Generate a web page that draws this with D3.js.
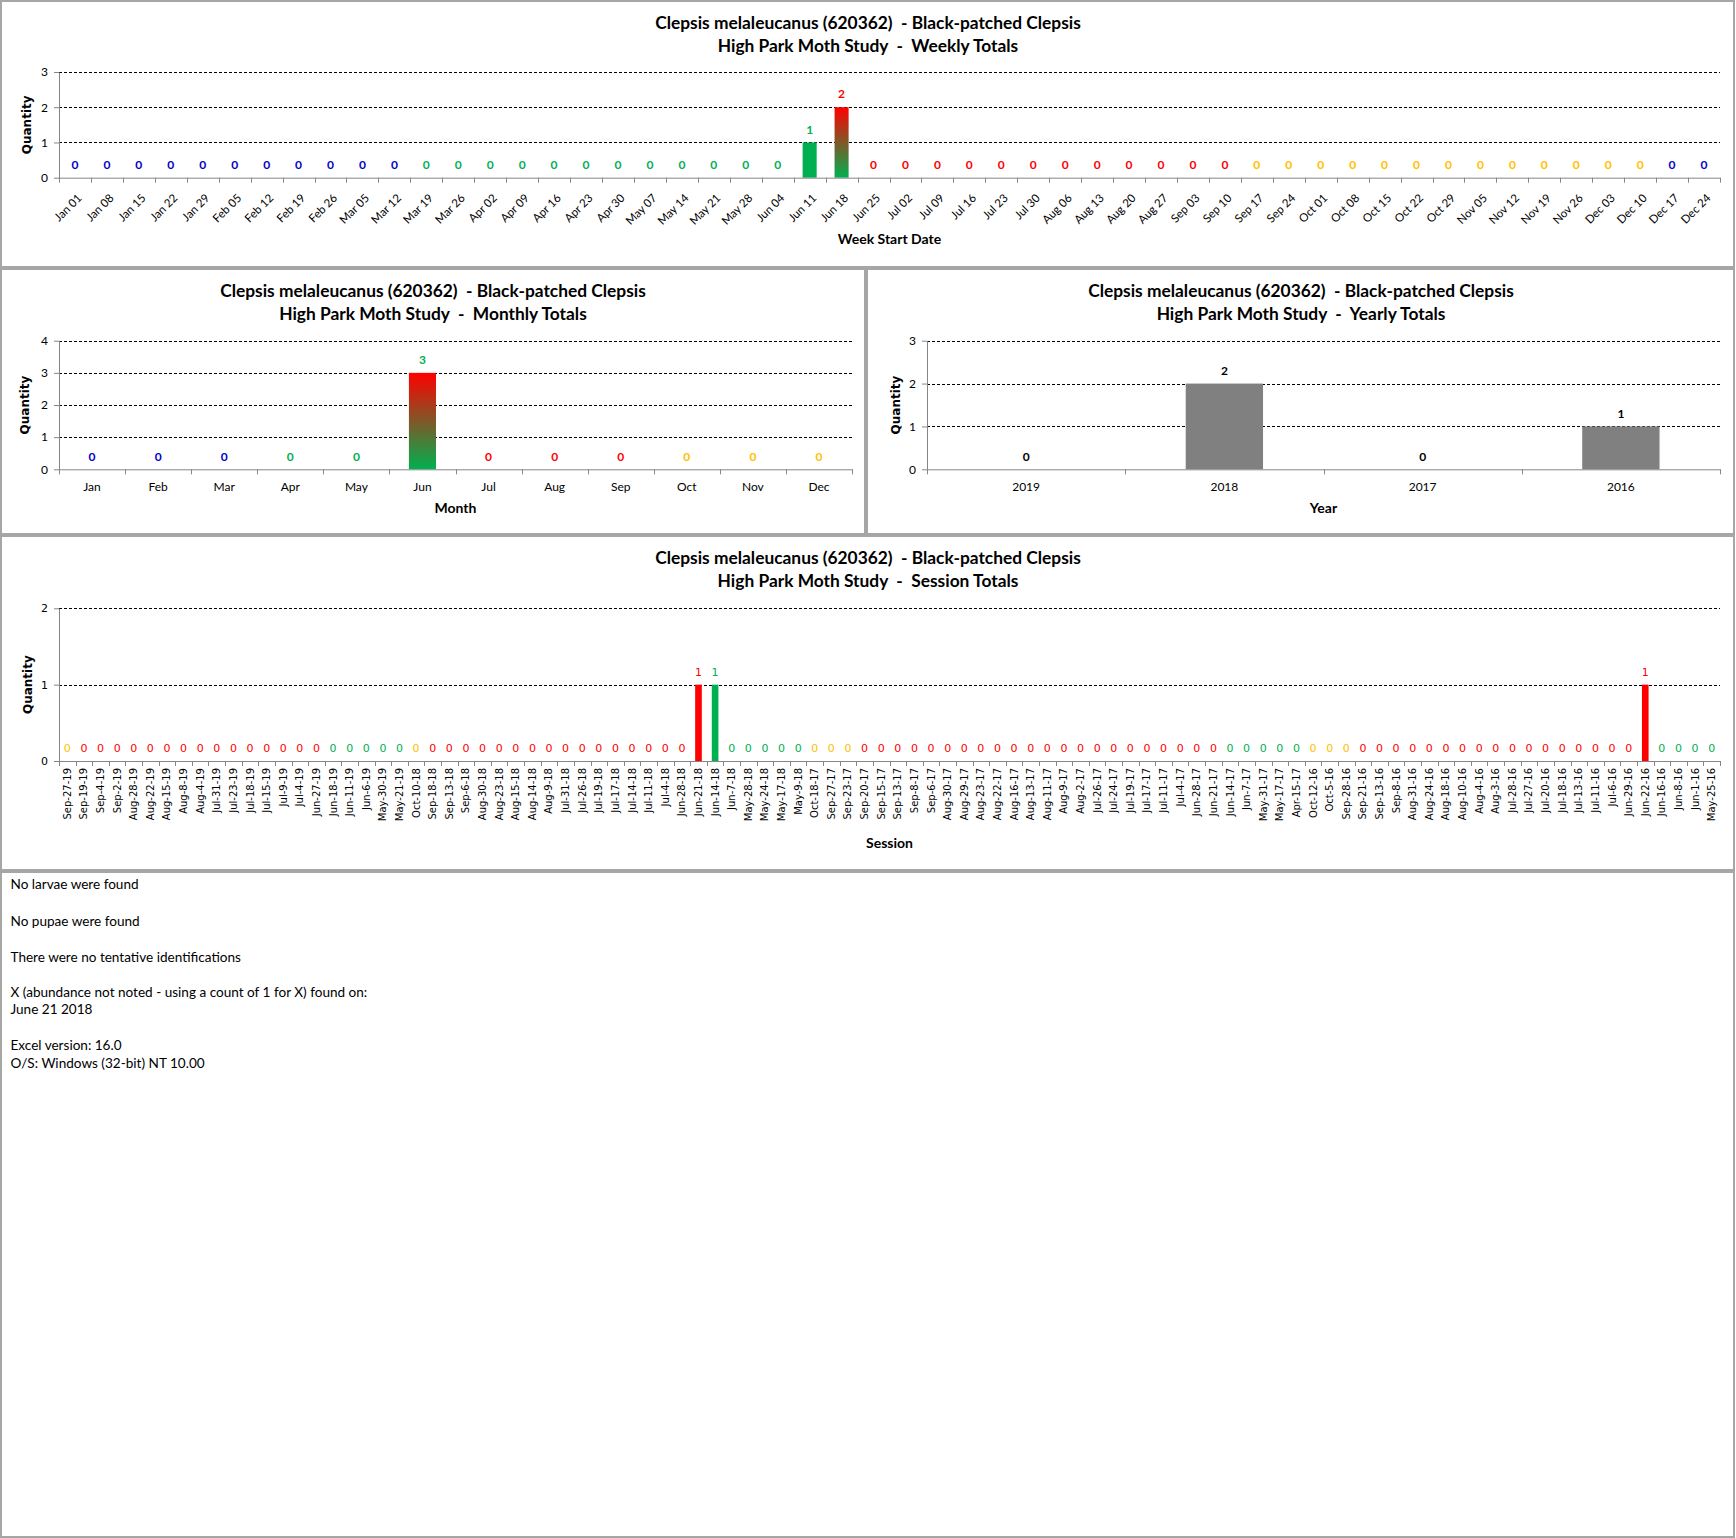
<!DOCTYPE html>
<html><head><meta charset="utf-8">
<script src="https://cdn.jsdelivr.net/npm/d3@7"></script>
<style>body{margin:0;background:#fff} svg{display:block}</style>
</head><body>
<svg id="c" width="1736" height="1538"></svg>
<script>
// ---------------- DATA ----------------
const speciesTitle = "Clepsis melaleucanus (620362)  - Black-patched Clepsis";
const studyTitle = "High Park Moth Study";

const weekLabels = ["Jan 01","Jan 08","Jan 15","Jan 22","Jan 29","Feb 05","Feb 12","Feb 19","Feb 26","Mar 05","Mar 12","Mar 19","Mar 26","Apr 02","Apr 09","Apr 16","Apr 23","Apr 30","May 07","May 14","May 21","May 28","Jun 04","Jun 11","Jun 18","Jun 25","Jul 02","Jul 09","Jul 16","Jul 23","Jul 30","Aug 06","Aug 13","Aug 20","Aug 27","Sep 03","Sep 10","Sep 17","Sep 24","Oct 01","Oct 08","Oct 15","Oct 22","Oct 29","Nov 05","Nov 12","Nov 19","Nov 26","Dec 03","Dec 10","Dec 17","Dec 24"];
const weekValues = [0,0,0,0,0,0,0,0,0,0, 0,0,0,0,0,0,0,0,0,0, 0,0,0,1,2,0,0,0,0,0, 0,0,0,0,0,0,0,0,0,0, 0,0,0,0,0,0,0,0,0,0, 0,0];

const monthLabels = ["Jan","Feb","Mar","Apr","May","Jun","Jul","Aug","Sep","Oct","Nov","Dec"];
const monthValues = [0,0,0,0,0,3,0,0,0,0,0,0];

const yearLabels = ["2019","2018","2017","2016"];
const yearValues = [0,2,0,1];

const sessionLabels = ["Sep-27-19","Sep-19-19","Sep-4-19","Sep-2-19","Aug-28-19","Aug-22-19","Aug-15-19","Aug-8-19","Aug-4-19","Jul-31-19","Jul-23-19","Jul-18-19","Jul-15-19","Jul-9-19","Jul-4-19","Jun-27-19","Jun-18-19","Jun-11-19","Jun-6-19","May-30-19","May-21-19",
"Oct-10-18","Sep-18-18","Sep-13-18","Sep-6-18","Aug-30-18","Aug-23-18","Aug-15-18","Aug-14-18","Aug-9-18","Jul-31-18","Jul-26-18","Jul-19-18","Jul-17-18","Jul-14-18","Jul-11-18","Jul-4-18","Jun-28-18","Jun-21-18","Jun-14-18","Jun-7-18","May-28-18","May-24-18","May-17-18","May-9-18",
"Oct-18-17","Sep-27-17","Sep-23-17","Sep-20-17","Sep-15-17","Sep-13-17","Sep-8-17","Sep-6-17","Aug-30-17","Aug-29-17","Aug-23-17","Aug-22-17","Aug-16-17","Aug-13-17","Aug-11-17","Aug-9-17","Aug-2-17","Jul-26-17","Jul-24-17","Jul-19-17","Jul-17-17","Jul-11-17","Jul-4-17","Jun-28-17","Jun-21-17","Jun-14-17","Jun-7-17","May-31-17","May-17-17","Apr-15-17",
"Oct-12-16","Oct-5-16","Sep-28-16","Sep-21-16","Sep-13-16","Sep-8-16","Aug-31-16","Aug-24-16","Aug-18-16","Aug-10-16","Aug-4-16","Aug-3-16","Jul-28-16","Jul-27-16","Jul-20-16","Jul-18-16","Jul-13-16","Jul-11-16","Jul-6-16","Jun-29-16","Jun-22-16","Jun-16-16","Jun-8-16","Jun-1-16","May-25-16"];
const sessionValues = [0,0,0,0,0,0,0,0,0,0, 0,0,0,0,0,0,0,0,0,0, 0,0,0,0,0,0,0,0,0,0, 0,0,0,0,0,0,0,0,1,1,
0,0,0,0,0,0,0,0,0,0, 0,0,0,0,0,0,0,0,0,0, 0,0,0,0,0,0,0,0,0,0, 0,0,0,0,0,0,0,0,0,0, 0,0,0,0,0,0,0,0,0,0, 0,0,0,0,0,1,0,0,0,0];

const notes = ["No larvae were found","No pupae were found","There were no tentative identifications","X (abundance not noted - using a count of 1 for X) found on:","June 21 2018","Excel version: 16.0","O/S: Windows (32-bit) NT 10.00"];

// ---------------- STYLE ----------------
const CAL = "Lato, 'Open Sans', sans-serif";
const VER = "'DejaVu Sans', Verdana, sans-serif";
const seasonColor = {spring:"#00B050", summer:"#FF0000", autumn:"#FFC000", winter:"#0000CC"};
function seasonOf(dt){
  const md = (dt.getMonth()+1)*100 + dt.getDate();
  if (md>=320 && md<=620) return "spring";
  if (md>=621 && md<=921) return "summer";
  if (md>=922 && md<=1220) return "autumn";
  return "winter";
}
const parseWeek = d3.timeParse("%b %d %Y");
const parseSession = d3.timeParse("%b-%d-%y");

const svg = d3.select("#c");
const defs = svg.append("defs");

// panels
const panels = [
  {x:1, y:1, w:1733, h:266},
  {x:1, y:269, w:864, h:265},
  {x:867, y:269, w:867, h:265},
  {x:1, y:536, w:1733, h:334},
  {x:1, y:872, w:1733, h:665}
];
svg.selectAll("rect.panel").data(panels).join("rect").attr("class","panel")
  .attr("x",d=>d.x).attr("y",d=>d.y).attr("width",d=>d.w).attr("height",d=>d.h)
  .attr("fill","#fff").attr("stroke","#a6a6a6").attr("stroke-width",2);

function fitFont(node, target){
  const len = node.getComputedTextLength();
  const fs = parseFloat(node.getAttribute("font-size"));
  const nfs = fs*target/len;
  node.setAttribute("font-size", nfs);
  return nfs;
}

let titleSize = null;
function drawChart(c){
  const g = svg.append("g");
  const x = d3.scaleBand().domain(c.labels).range([c.x0,c.x1]).paddingInner(c.pad).paddingOuter(c.pad/2);
  const y = d3.scaleLinear().domain([0,c.yMax]).range([c.bottom,c.top]);

  // titles
  const t1 = g.append("text").attr("x",c.cx).attr("y",c.t1y).attr("text-anchor","middle")
    .attr("font-family",CAL).attr("font-weight","bold").attr("font-size",17)
    .style("white-space","pre").text(speciesTitle);
  if (titleSize===null) titleSize = fitFont(t1.node(), 426);
  t1.attr("font-size",titleSize);
  g.append("text").attr("x",c.cx).attr("y",c.t1y+23).attr("text-anchor","middle")
    .attr("font-family",CAL).attr("font-weight","bold").attr("font-size",titleSize)
    .style("white-space","pre").text(studyTitle + "  -  " + c.subtitle);

  // gridlines
  g.append("g").selectAll("line").data(y.ticks(c.yMax).filter(v=>v>0)).join("line")
    .attr("x1",c.x0).attr("x2",c.x1).attr("y1",d=>Math.round(y(d))+0.5).attr("y2",d=>Math.round(y(d))+0.5)
    .attr("stroke","#000").attr("stroke-width",1).attr("stroke-dasharray","3,2");

  // y axis
  const ya = g.append("g").attr("transform",`translate(${c.x0},0)`)
    .call(d3.axisLeft(y).ticks(c.yMax).tickFormat(d3.format("d")).tickSize(5).tickSizeOuter(0).tickPadding(6));
  ya.select(".domain").attr("stroke","#868686");
  ya.selectAll(".tick line").attr("stroke","#868686");
  ya.selectAll(".tick text").attr("font-family",c.yFont).attr("font-size",c.yFontSize).attr("fill","#000");

  // bars
  const bars = c.labels.map((l,i)=>({l, v:c.values[i], i})).filter(d=>d.v>0);
  bars.forEach(d=>{
    const f = c.barFill(d.i);
    let fill = f;
    if (Array.isArray(f)){
      const id = "grad"+c.subtitle.replace(/\W/g,"")+d.i;
      const lg = defs.append("linearGradient").attr("id",id).attr("x1",0).attr("y1",0).attr("x2",0).attr("y2",1);
      lg.append("stop").attr("offset","0").attr("stop-color",f[1]);
      lg.append("stop").attr("offset","1").attr("stop-color",f[0]);
      fill = `url(#${id})`;
    }
    g.append("rect").attr("x",x(d.l)).attr("y",y(d.v)).attr("width",x.bandwidth())
      .attr("height",y(0)-y(d.v)).attr("fill",fill);
  });

  // x axis
  const xa = g.append("g").attr("transform",`translate(0,${c.bottom})`)
    .call(d3.axisBottom(x).tickSize(0).tickSizeOuter(0));
  xa.select(".domain").attr("stroke","#868686");
  const n = c.labels.length;
  g.append("g").selectAll("line").data(d3.range(n+1)).join("line")
    .attr("x1",i=>Math.round(c.x0 + i*x.step())+0.5).attr("x2",i=>Math.round(c.x0 + i*x.step())+0.5)
    .attr("y1",c.bottom).attr("y2",c.bottom+5).attr("stroke","#868686");
  const tt = xa.selectAll(".tick text").attr("fill","#000").attr("font-family",c.xFont).attr("font-size",c.xFontSize);
  if (c.tickStyle==="diag"){
    tt.attr("y",0).attr("dy",0).attr("text-anchor","end").attr("transform","translate(7.5,21) rotate(-45)");
  } else if (c.tickStyle==="vert"){
    tt.attr("y",0).attr("x",-7).attr("dy","0.35em").attr("text-anchor","end").attr("transform","rotate(-90)");
  } else {
    tt.attr("y",0).attr("dy",0).attr("transform",`translate(0,${c.tickDy})`);
  }

  // value labels
  g.append("g").selectAll("text").data(c.labels.map((l,i)=>({l,v:c.values[i],i}))).join("text")
    .attr("x",d=>x(d.l)+x.bandwidth()/2).attr("y",d=>y(d.v)-13).attr("dy","0.35em")
    .attr("text-anchor","middle").attr("font-family",c.vFont).attr("font-size",c.vFontSize)
    .attr("font-weight",c.vWeight).attr("fill",d=>c.labelColor(d.i)).text(d=>d.v);

  // axis titles
  g.append("text").attr("x",(c.x0+c.x1)/2).attr("y",c.xTitleY).attr("text-anchor","middle")
    .attr("font-family",CAL).attr("font-weight","bold").attr("font-size",14).text(c.xTitle);
  g.append("text").attr("transform",`translate(${c.qx},${(c.top+c.bottom)/2}) rotate(-90)`)
    .attr("text-anchor","middle").attr("dy","0.35em").attr("font-family",VER).attr("font-weight","bold")
    .attr("font-size",12).text("Quantity");
}

// Weekly
const weekStart = weekLabels.map(l=>parseWeek(l+" 2018"));
const weekEnd = weekStart.map(d=>d3.timeDay.offset(d,6));
drawChart({
  labels:weekLabels, values:weekValues, subtitle:"Weekly Totals", cx:868, t1y:28.5,
  x0:59, x1:1720, top:72, bottom:177.7, yMax:3, pad:0.56,
  yFont:CAL, yFontSize:12, xFont:CAL, xFontSize:11.5, tickStyle:"diag",
  vFont:CAL, vFontSize:12, vWeight:"bold",
  labelColor:i=>seasonColor[seasonOf(weekEnd[i])],
  barFill:i=>{const a=seasonColor[seasonOf(weekStart[i])], b=seasonColor[seasonOf(weekEnd[i])]; return a===b?a:[a,b];},
  xTitle:"Week Start Date", xTitleY:244, qx:27
});

// Monthly
const monthStart = monthLabels.map((l,i)=>new Date(2018,i,1));
const monthEnd = monthLabels.map((l,i)=>new Date(2018,i+1,0));
drawChart({
  labels:monthLabels, values:monthValues, subtitle:"Monthly Totals", cx:433, t1y:296.5,
  x0:59, x1:852, top:340.7, bottom:469.3, yMax:4, pad:0.59,
  yFont:CAL, yFontSize:12, xFont:CAL, xFontSize:12, tickStyle:"horiz", tickDy:22,
  vFont:CAL, vFontSize:12, vWeight:"bold",
  labelColor:i=>seasonColor[seasonOf(monthStart[i])],
  barFill:i=>{const a=seasonColor[seasonOf(monthStart[i])], b=seasonColor[seasonOf(monthEnd[i])]; return a===b?a:[a,b];},
  xTitle:"Month", xTitleY:513, qx:25
});

// Yearly
drawChart({
  labels:yearLabels, values:yearValues, subtitle:"Yearly Totals", cx:1301, t1y:296.5,
  x0:927, x1:1720, top:340.7, bottom:469.3, yMax:3, pad:0.61,
  yFont:CAL, yFontSize:12, xFont:CAL, xFontSize:12, tickStyle:"horiz", tickDy:22,
  vFont:CAL, vFontSize:12, vWeight:"bold",
  labelColor:i=>"#000",
  barFill:i=>"#808080",
  xTitle:"Year", xTitleY:513, qx:896
});

// Session
const sessionDates = sessionLabels.map(l=>parseSession(l));
drawChart({
  labels:sessionLabels, values:sessionValues, subtitle:"Session Totals", cx:868, t1y:564,
  x0:59, x1:1720, top:608.3, bottom:761, yMax:2, pad:0.6,
  yFont:VER, yFontSize:11, xFont:VER, xFontSize:10, tickStyle:"vert",
  vFont:VER, vFontSize:11, vWeight:"normal",
  labelColor:i=>seasonColor[seasonOf(sessionDates[i])],
  barFill:i=>seasonColor[seasonOf(sessionDates[i])],
  xTitle:"Session", xTitleY:848, qx:28
});

// Notes
const noteY = [888.5, 925.5, 961.5, 996.5, 1013.5, 1049.5, 1067.5];
const nt = svg.append("g").selectAll("text").data(notes).join("text")
  .attr("x",10.5).attr("y",(d,i)=>noteY[i]).attr("font-family",CAL).attr("font-size",13)
  .attr("fill","#000").text(d=>d);
const ns = fitFont(nt.nodes()[3], 357);
nt.attr("font-size",ns);
</script>
</body></html>
